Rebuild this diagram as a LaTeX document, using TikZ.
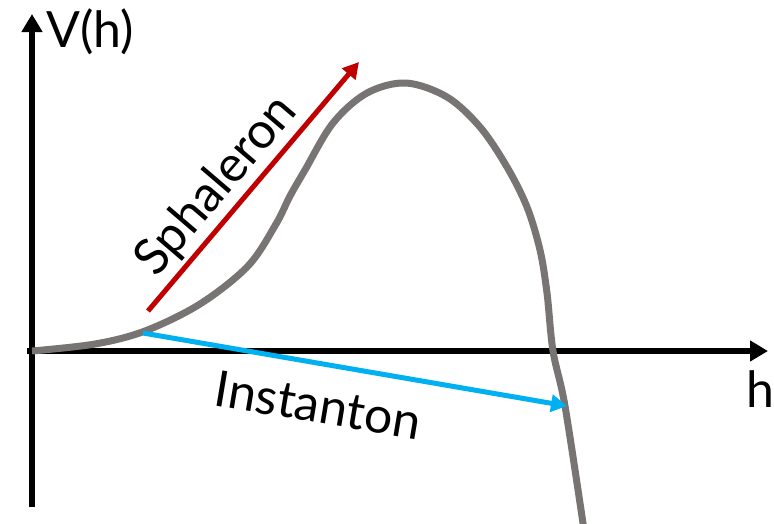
\documentclass[tikz,border=0pt]{standalone}
\usepackage{fontspec}
\setmainfont{Lato}
\usepackage{tikz}
\usetikzlibrary{arrows.meta,positioning,calc}
\definecolor{potGray}{HTML}{787474}
\definecolor{sphRed}{HTML}{C00000}
\definecolor{instBlue}{HTML}{00B0F0}

\tikzset{
  axisline/.style={line width=5.5pt,-{Triangle[length=18pt,width=20pt]}},
  tunnel/.style={line width=5pt,-{Triangle[length=16pt,width=17pt]}},
  biglabel/.style={font=\fontsize{50}{54}\selectfont,inner sep=0pt}
}

\begin{document}
\begin{tikzpicture}[x=1pt,y=-1pt]
\useasboundingbox (0,0) rectangle (774,523);
% axes
\coordinate (vbot) at (32,507);
\coordinate (vtop) at (32,14);
\coordinate (hleft) at (27,351);
\coordinate (hright) at (768,351);
\draw[axisline] (vbot) -- (vtop);
\draw[axisline] (hleft) -- (hright);
\node[biglabel,anchor=base west] (vlab) at (46,47) {V(h)};
\node[biglabel,anchor=base west] (hlab) at (746,407) {h};
% potential
\draw[potGray,line width=7pt,line cap=butt]
  plot[smooth,tension=0.55] coordinates {(32,351) (95,344) (145,331) (200,304)
  (248,266) (276,224) (290,196) (305,170) (333,123) (367,93) (406,83) (447,97) (480,127)
  (507,167) (527,207) (540,250) (547,293) (553,351) (565,406) (584,530)};
% tunnels
\coordinate (sphA) at (148,311);
\coordinate (sphB) at (359,62);
\coordinate (insA) at (143,333);
\coordinate (insB) at (567,406);
\draw[tunnel,sphRed] (sphA) -- (sphB);
\draw[tunnel,instBlue] (insA) -- (insB);
\node[biglabel,rotate=49.5] (sphal) at (217,186) {Sphaleron};
\node[biglabel,rotate=-9.5] (inst) at (318,405) {Instanton};
\end{tikzpicture}
\end{document}
